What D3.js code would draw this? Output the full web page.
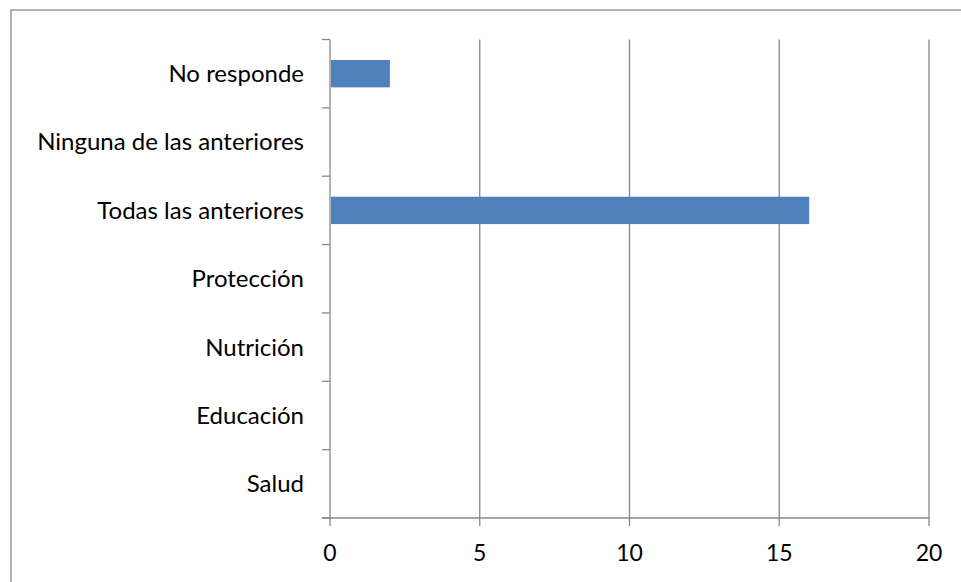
<!DOCTYPE html>
<html>
<head>
<meta charset="utf-8">
<script src="https://cdn.jsdelivr.net/npm/d3@7"></script>
<style>
  body { margin: 0; background: #fff; }
  text { font-family: Lato, "Open Sans", sans-serif; fill: #000; }
</style>
</head>
<body>
<div class="content"></div>
<script>
// categories from bottom to top, as in the picture
var categories = ["Salud", "Educación", "Nutrición", "Protección", "Todas las anteriores", "Ninguna de las anteriores", "No responde"];
var values = [0, 0, 0, 0, 16, 0, 2];
var xTicks = [0, 5, 10, 15, 20];

var width = 961, height = 582;
var plotLeft = 330, plotRight = 929, plotTop = 39.5, plotBottom = 518;

var svg = d3.select(".content").append("svg")
  .attr("width", width)
  .attr("height", height);

// outer frame (runs off the right and bottom edges)
svg.append("rect")
  .attr("x", 11).attr("y", 10)
  .attr("width", 980).attr("height", 600)
  .attr("fill", "none")
  .attr("stroke", "#8c8c8c")
  .attr("stroke-width", 1.3);

var x = d3.scaleLinear().domain([0, 20]).range([plotLeft, plotRight]);
var y = d3.scaleBand().domain(categories.slice().reverse()).range([plotTop, plotBottom]);
var yBar = d3.scaleBand().domain(categories.slice().reverse()).range([plotTop, plotBottom])
  .paddingInner(0.6).paddingOuter(0.3);

// vertical gridlines
svg.selectAll(".grid")
  .data(xTicks.slice(1))
  .enter().append("line")
    .attr("class", "grid")
    .attr("x1", function(d) {return x(d)})
    .attr("x2", function(d) {return x(d)})
    .attr("y1", plotTop)
    .attr("y2", plotBottom)
    .attr("stroke", "#888")
    .attr("stroke-width", 1.3);

// bars
svg.selectAll(".bars")
  .data(values)
  .enter().append("rect")
    .attr("class", "bars")
    .attr("x", x(0) + 1)
    .attr("y", function(d, i) {return yBar(categories[i])})
    .attr("width", function(d) {return Math.max(0, x(d) - x(0) - 1)})
    .attr("height", yBar.bandwidth())
    .attr("fill", "#4f81bd");

// y axis line and ticks at band edges
var edges = d3.range(categories.length + 1).map(function(i) {return plotTop + i * y.step()});
svg.append("line")
  .attr("x1", plotLeft).attr("x2", plotLeft)
  .attr("y1", plotTop).attr("y2", plotBottom)
  .attr("stroke", "#888").attr("stroke-width", 1.3);
svg.selectAll(".ytick")
  .data(edges)
  .enter().append("line")
    .attr("class", "ytick")
    .attr("x1", plotLeft - 8).attr("x2", plotLeft)
    .attr("y1", function(d) {return d})
    .attr("y2", function(d) {return d})
    .attr("stroke", "#888").attr("stroke-width", 1.3);

// x axis line and ticks
svg.append("line")
  .attr("x1", plotLeft - 8).attr("x2", plotRight)
  .attr("y1", plotBottom).attr("y2", plotBottom)
  .attr("stroke", "#888").attr("stroke-width", 1.3);
svg.selectAll(".xtick")
  .data(xTicks)
  .enter().append("line")
    .attr("class", "xtick")
    .attr("x1", function(d) {return x(d)})
    .attr("x2", function(d) {return x(d)})
    .attr("y1", plotBottom).attr("y2", plotBottom + 8)
    .attr("stroke", "#888").attr("stroke-width", 1.3);

// labels
svg.selectAll(".xlabel")
  .data(xTicks)
  .enter().append("text")
    .attr("class", "xlabel")
    .text(function(d) {return d})
    .attr("x", function(d) {return x(d)})
    .attr("y", 553)
    .attr("dy", "0.35em")
    .attr("text-anchor", "middle")
    .style("font-size", "23px");

svg.selectAll(".ylabel")
  .data(categories)
  .enter().append("text")
    .attr("class", "ylabel")
    .text(function(d) {return d})
    .attr("x", 304)
    .attr("y", function(d) {return y(d) + y.bandwidth() / 2})
    .attr("dy", "0.35em")
    .attr("text-anchor", "end")
    .style("font-size", "24px");
</script>
</body>
</html>
